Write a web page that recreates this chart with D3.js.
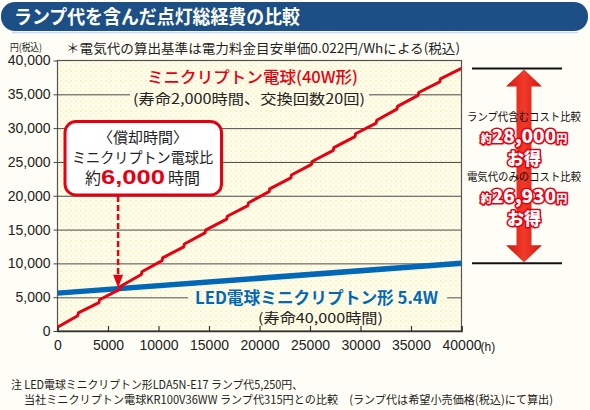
<!DOCTYPE html>
<html><head><meta charset="utf-8">
<script src="https://cdn.jsdelivr.net/npm/d3@7/dist/d3.min.js"></script>
<style>
html,body{margin:0;padding:0;background:#fffef6;}
svg{display:block;}
</style></head>
<body>
<svg id="c" width="590" height="410"></svg>
<script>
// ---- data ----
const yTicks = [0,5000,10000,15000,20000,25000,30000,35000,40000];
const xTicks = [0,5000,10000,15000,20000,25000,30000,35000,40000];
const stepHours = [2000,4100,6150,8300,10350,12500,14600,16750,18850,20950,23100,25150,27300,29450,31550,33600,35700,37850];
const redBefore = [2250,4200,6150,8350,10400,12450,14500,16550,18550,20600,22650,24650,26700,28750,30750,32800,34850,36850];
const redAfter  = [2670,4620,6570,8770,10820,12870,14920,16970,18970,21020,23070,25070,27120,29170,31170,33220,35270,37270];
const redStart = 550, redEnd = 38830;
const blueHours = [0,40000];
const blueValues = [5600,10010];
const breakEven = 6000;

const JP = "'Noto Sans CJK JP','Noto Sans',sans-serif";
const LAT = "'Liberation Sans',Arial,sans-serif";
const RED = "#e60012", BLUE = "#0068b7";

const svg = d3.select("#c");
const x = d3.scaleLinear().domain([0,40000]).range([57.5,461.5]);
const y = d3.scaleLinear().domain([0,40000]).range([331,60.5]);

// defs
const defs = svg.append("defs");
const pat = defs.append("pattern").attr("id","dots").attr("width",5).attr("height",5).attr("patternUnits","userSpaceOnUse");
pat.append("rect").attr("width",5).attr("height",5).attr("fill","#fffdf0");
pat.append("circle").attr("cx",1).attr("cy",1).attr("r",0.9).attr("fill","#fbf0a0");
pat.append("circle").attr("cx",3.5).attr("cy",3.5).attr("r",0.8).attr("fill","#fcf3b4");
const grad = defs.append("linearGradient").attr("id","arrG").attr("x1","0").attr("x2","1").attr("y1","0").attr("y2","0");
grad.append("stop").attr("offset","0").attr("stop-color","#d01810");
grad.append("stop").attr("offset","0.5").attr("stop-color","#f23a2a");
grad.append("stop").attr("offset","1").attr("stop-color","#d01810");
defs.append("clipPath").attr("id","plotClip").append("rect")
  .attr("x",x(0)).attr("y",y(40000)).attr("width",x(40000)-x(0)).attr("height",y(0)-y(40000));

// title bar
svg.append("rect").attr("x",1).attr("y",2).attr("width",587).attr("height",29).attr("rx",14).attr("fill","#1c4f85");
svg.append("line").attr("x1",12).attr("x2",578).attr("y1",32.5).attr("y2",32.5).attr("stroke","#c9dcec").attr("stroke-width",1.5);
svg.append("text").attr("x",14).attr("y",23.5).attr("fill","#fff").attr("font-family",JP).attr("font-weight",700)
  .attr("font-size",19).attr("textLength",286).attr("lengthAdjust","spacingAndGlyphs").text("ランプ代を含んだ点灯総経費の比較");

svg.append("text").attr("x",10).attr("y",51).attr("font-family",JP).attr("font-size",10).attr("fill","#222")
  .attr("textLength",32).attr("lengthAdjust","spacingAndGlyphs").text("円(税込)");
svg.append("text").attr("x",66).attr("y",52.5).attr("font-family",JP).attr("font-size",13).attr("fill","#222")
  .attr("textLength",394).attr("lengthAdjust","spacingAndGlyphs").text("＊電気代の算出基準は電力料金目安単価0.022円/Whによる(税込)");

// plot background
svg.append("rect").attr("x",x(0)).attr("y",y(40000)).attr("width",x(40000)-x(0)).attr("height",y(0)-y(40000)).attr("fill","url(#dots)");

// gridlines
const grid = svg.append("g").attr("transform",`translate(${x(0)},0)`)
  .call(d3.axisLeft(y).tickValues(yTicks.filter(d=>d>0&&d<40000)).tickSize(-(x(40000)-x(0))).tickFormat(""));
grid.select(".domain").remove();
grid.selectAll(".tick line").attr("stroke",d=>d===5000?"#8a8a8a":"#4a4a4a").attr("stroke-width",d=>d===5000?1.4:1);

// text backgrounds (gaps in gridlines)
svg.append("rect").attr("x",130).attr("y",y(35000)-3).attr("width",239).attr("height",6).attr("fill","url(#dots)");
svg.append("rect").attr("x",188).attr("y",y(5000)-3).attr("width",259).attr("height",6).attr("fill","url(#dots)");

// plot frame
svg.append("rect").attr("x",x(0)).attr("y",y(40000)).attr("width",x(40000)-x(0)).attr("height",y(0)-y(40000))
  .attr("fill","none").attr("stroke","#555").attr("stroke-width",1.2);

// y axis
const ya = svg.append("g").attr("transform",`translate(${x(0)},0)`)
  .call(d3.axisLeft(y).tickValues(yTicks).tickSize(4).tickPadding(3).tickFormat(d3.format(",")));
ya.select(".domain").remove();
ya.selectAll(".tick line").attr("stroke","#444");
ya.selectAll("text").attr("font-family",LAT).attr("font-size",14).attr("fill","#222");

// x axis
const xa = svg.append("g").attr("transform",`translate(0,${y(0)})`)
  .call(d3.axisBottom(x).tickValues(xTicks).tickSize(-5).tickPadding(9).tickFormat(d=>String(d)));
xa.select(".domain").attr("stroke","#333").attr("stroke-width",1.6);
xa.selectAll(".tick line").attr("stroke","#333").attr("stroke-width",1.2);
xa.selectAll("text").attr("font-family",LAT).attr("font-size",14).attr("fill","#222");
svg.append("text").attr("x",x(40000)+19).attr("y",350.5).attr("font-family",LAT).attr("font-size",12).attr("fill","#222").text("(h)");

// series
const redPts = [[0,redStart]];
stepHours.forEach((h,i)=>{redPts.push([h,redBefore[i]]);redPts.push([h+60,redAfter[i]]);});
redPts.push([40000,redEnd]);
const bluePts = blueHours.map((h,i)=>[h,blueValues[i]]);
const line = d3.line().x(d=>x(d[0])).y(d=>y(d[1]));
const series = svg.append("g").attr("clip-path","url(#plotClip)");
series.append("path").datum(bluePts).attr("d",line).attr("fill","none").attr("stroke",BLUE).attr("stroke-width",5.5);
series.append("path").datum(redPts).attr("d",line).attr("fill","none").attr("stroke",RED).attr("stroke-width",3).attr("stroke-linejoin","round");

// series labels
svg.append("text").attr("x",147).attr("y",82.5).attr("font-family",JP).attr("font-size",16).attr("font-weight",500).attr("fill",RED)
  .attr("textLength",211).attr("lengthAdjust","spacingAndGlyphs").text("ミニクリプトン電球(40W形)");
svg.append("text").attr("x",133).attr("y",103.5).attr("font-family",JP).attr("font-size",14).attr("fill","#222")
  .attr("textLength",232).attr("lengthAdjust","spacingAndGlyphs").text("(寿命2,000時間、交換回数20回)");
svg.append("text").attr("x",195).attr("y",303.5).attr("font-family",JP).attr("font-size",16.5).attr("font-weight",700).attr("fill",BLUE)
  .attr("textLength",243).attr("lengthAdjust","spacingAndGlyphs").text("LED電球ミニクリプトン形 5.4W");
svg.append("text").attr("x",258).attr("y",322.5).attr("font-family",JP).attr("font-size",13.5).attr("fill","#222")
  .attr("textLength",125).attr("lengthAdjust","spacingAndGlyphs").text("(寿命40,000時間)");

// callout
const bx = x(breakEven);
const blueAt = blueValues[0] + (blueValues[1]-blueValues[0])*breakEven/40000;
const tipY = y(blueAt);
svg.append("line").attr("x1",bx).attr("x2",bx).attr("y1",196).attr("y2",tipY-12)
  .attr("stroke",RED).attr("stroke-width",2.5).attr("stroke-dasharray","6,3");
svg.append("path").attr("d",`M${bx-5},${tipY-14}L${bx+5},${tipY-14}L${bx},${tipY-1}Z`).attr("fill",RED);
svg.append("rect").attr("x",65).attr("y",121.5).attr("width",156.5).attr("height",73.5).attr("rx",11)
  .attr("fill","#fff").attr("stroke",RED).attr("stroke-width",3);
svg.append("text").attr("x",143).attr("y",142.5).attr("text-anchor","middle").attr("font-family",JP).attr("font-size",15).attr("fill","#222").text("〈償却時間〉");
svg.append("text").attr("x",72).attr("y",162.5).attr("font-family",JP).attr("font-size",15).attr("fill","#222")
  .attr("textLength",141).attr("lengthAdjust","spacingAndGlyphs").text("ミニクリプトン電球比");
const t3 = svg.append("text").attr("x",85).attr("y",183.5).attr("font-family",JP).attr("fill","#222");
t3.append("tspan").attr("font-size",16).text("約");
t3.append("tspan").attr("font-size",20).attr("font-weight",700).attr("fill",RED).attr("font-family",LAT)
  .attr("textLength",64).attr("lengthAdjust","spacingAndGlyphs").text("6,000");
t3.append("tspan").attr("font-size",16).attr("dx",3).text("時間");

// right-side double arrow
const topY = y(redEnd), botY = y(blueValues[1]);
svg.append("line").attr("x1",472).attr("x2",562).attr("y1",topY).attr("y2",topY).attr("stroke","#111").attr("stroke-width",2);
svg.append("line").attr("x1",472).attr("x2",562).attr("y1",botY).attr("y2",botY).attr("stroke","#111").attr("stroke-width",2);
const ax = 524, sw = 7.5, hw = 18, hl = 17;
svg.append("path").attr("fill","url(#arrG)")
  .attr("d",`M${ax},${topY+1}L${ax+hw},${topY+1+hl}L${ax+sw},${topY+1+hl}L${ax+sw},${botY-1-hl}L${ax+hw},${botY-1-hl}L${ax},${botY-1}L${ax-hw},${botY-1-hl}L${ax-sw},${botY-1-hl}L${ax-sw},${topY+1+hl}L${ax-hw},${topY+1+hl}Z`);

function outlineText(yy, parts){
  const t = svg.append("text").attr("x",ax).attr("y",yy).attr("text-anchor","middle").attr("font-family",JP)
    .attr("font-weight",900).attr("fill","#fff").attr("stroke",RED).attr("stroke-width",3.2)
    .attr("stroke-linejoin","round").attr("paint-order","stroke");
  parts.forEach(p=>t.append("tspan").attr("font-size",p[1]).text(p[0]));
  return t;
}
svg.append("text").attr("x",ax).attr("y",120.5).attr("text-anchor","middle").attr("font-family",JP).attr("font-size",11).attr("fill","#111")
  .attr("textLength",114).attr("lengthAdjust","spacingAndGlyphs").text("ランプ代含むコスト比較");
outlineText(143,[["約",11],["28,000",19],["円",11]]);
outlineText(164.5,[["お得",17]]);
svg.append("text").attr("x",ax).attr("y",181).attr("text-anchor","middle").attr("font-family",JP).attr("font-size",11).attr("fill","#111")
  .attr("textLength",114).attr("lengthAdjust","spacingAndGlyphs").text("電気代のみのコスト比較");
outlineText(203,[["約",11],["26,930",19],["円",11]]);
outlineText(224.5,[["お得",17]]);

// footnotes
svg.append("text").attr("x",11).attr("y",389).attr("font-family",JP).attr("font-size",11.5).attr("fill","#222")
  .attr("textLength",292).attr("lengthAdjust","spacingAndGlyphs").text("注 LED電球ミニクリプトン形LDA5N-E17 ランプ代5,250円、");
svg.append("text").attr("x",24).attr("y",404).attr("font-family",JP).attr("font-size",11.5).attr("fill","#222")
  .attr("textLength",529).attr("lengthAdjust","spacingAndGlyphs").text("当社ミニクリプトン電球KR100V36WW ランプ代315円との比較　(ランプ代は希望小売価格(税込)にて算出)");
</script>
</body></html>
